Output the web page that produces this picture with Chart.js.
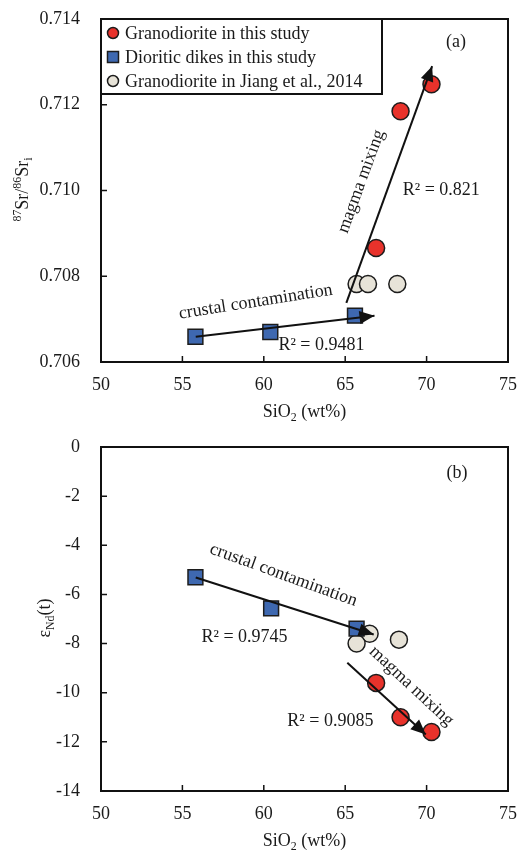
<!DOCTYPE html>
<html>
<head>
<meta charset="utf-8">
<script src="https://cdn.jsdelivr.net/npm/chart.js@4.4.1/dist/chart.umd.min.js"></script>
<style>
  html, body { margin: 0; padding: 0; background: #fff; }
  #wrap { position: relative; width: 520px; height: 855px; }
  canvas { position: absolute; left: 0; }
</style>
</head>
<body>
<div id="wrap">
  <canvas id="srChart" width="520" height="430" style="top:0"></canvas>
  <canvas id="ndChart" width="520" height="425" style="top:430px"></canvas>
</div>
<script>
const legendLabels = ['Granodiorite in this study', 'Dioritic dikes in this study', 'Granodiorite in Jiang et al., 2014'];

// (a) initial 87Sr/86Sr vs SiO2
const graniteSiO2 = [66.9, 68.4, 70.3];
const graniteSr = [0.70866, 0.71185, 0.71248];
const dikeSiO2 = [55.8, 60.4, 65.6];
const dikeSr = [0.70659, 0.70670, 0.70708];
const jiangSiO2 = [65.7, 66.4, 68.2];
const jiangSr = [0.70782, 0.70782, 0.70782];

// (b) eNd(t) vs SiO2
const graniteNdSiO2 = [66.9, 68.4, 70.3];
const graniteNd = [-9.6, -11.0, -11.6];
const dikeNdSiO2 = [55.8, 60.45, 65.7];
const dikeNd = [-5.3, -6.57, -7.39];
const jiangNdSiO2 = [66.5, 65.7, 68.3];
const jiangNd = [-7.6, -8.0, -7.84];

// trend arrows, [start, end]
const crustSrX = [55.82, 66.8];
const crustSrY = [0.70659, 0.70708];
const mixSrX = [65.07, 70.34];
const mixSrY = [0.70738, 0.7129];
const crustNdX = [55.82, 66.75];
const crustNdY = [-5.31, -7.63];
const mixNdX = [65.13, 69.95];
const mixNdY = [-8.78, -11.7];

// tick labels
const xTicks = [50, 55, 60, 65, 70, 75];
const srTicks = [0.706, 0.708, 0.710, 0.712, 0.714];
const ndTicks = [-14, -12, -10, -8, -6, -4, -2, 0];

const serif = "'Liberation Serif', 'Times New Roman', serif";
const RED = '#e8322b', BLUE = '#3e68b0', GREY = '#e7e3d8', EDGE = '#1c1c1c', INK = '#1a1a1a';

const pts = (xs, ys) => xs.map((x, i) => ({ x: x, y: ys[i] }));

function markers(xs, ys, k) {
  const style = [
    { pointStyle: 'circle', pointRadius: 8.5, backgroundColor: RED },
    { pointStyle: 'rect', pointRadius: 10.5, backgroundColor: BLUE },
    { pointStyle: 'circle', pointRadius: 8.5, backgroundColor: GREY }
  ][k];
  return Object.assign({ label: legendLabels[k], data: pts(xs, ys), borderColor: EDGE, borderWidth: 1.5, order: 2 }, style);
}

function arrowLine(xs, ys) {
  return { data: pts(xs, ys), showLine: true, pointRadius: 0, borderColor: '#111', borderWidth: 2, order: 0, arrow: true };
}

// text with sup/sub parts, centred on x,y
function richText(ctx, parts, x, y, rot, size) {
  ctx.save();
  ctx.translate(x, y);
  ctx.rotate(rot * Math.PI / 180);
  const fs = p => (p[1] ? size * 0.66 : size);
  let w = 0;
  parts.forEach(p => { ctx.font = fs(p) + 'px ' + serif; w += ctx.measureText(p[0]).width; });
  let cx = -w / 2;
  ctx.fillStyle = INK;
  ctx.textAlign = 'left';
  ctx.textBaseline = 'alphabetic';
  parts.forEach(p => {
    ctx.font = fs(p) + 'px ' + serif;
    const dy = p[1] === 'sup' ? -size * 0.4 : p[1] === 'sub' ? size * 0.22 : 0;
    ctx.fillText(p[0], cx, size * 0.33 + dy);
    cx += ctx.measureText(p[0]).width;
  });
  ctx.restore();
}

function framePlugin(notes, yTitle, yTitleX, withLegend) {
  return {
    id: 'frame',
    afterDatasetsDraw(chart) {
      const ctx = chart.ctx, ca = chart.chartArea;
      const xs = chart.scales.x, ys = chart.scales.y;

      // arrow heads
      chart.data.datasets.forEach((ds, i) => {
        if (!ds.arrow) return;
        const d = chart.getDatasetMeta(i).data;
        const a = d[d.length - 2], b = d[d.length - 1];
        const ang = Math.atan2(b.y - a.y, b.x - a.x);
        ctx.save();
        ctx.translate(b.x, b.y);
        ctx.rotate(ang);
        ctx.fillStyle = '#111';
        ctx.beginPath();
        ctx.moveTo(0, 0);
        ctx.lineTo(-15, -6.5);
        ctx.lineTo(-15, 6.5);
        ctx.closePath();
        ctx.fill();
        ctx.restore();
      });

      // frame and inward ticks
      ctx.save();
      ctx.strokeStyle = '#111';
      ctx.lineWidth = 2;
      ctx.strokeRect(ca.left, ca.top, ca.right - ca.left, ca.bottom - ca.top);
      ctx.lineWidth = 1.5;
      ctx.beginPath();
      xs.ticks.forEach(t => {
        const px = xs.getPixelForValue(t.value);
        ctx.moveTo(px, ca.bottom);
        ctx.lineTo(px, ca.bottom - 6);
      });
      ys.ticks.forEach(t => {
        const py = ys.getPixelForValue(t.value);
        ctx.moveTo(ca.left, py);
        ctx.lineTo(ca.left + 6, py);
      });
      ctx.stroke();
      ctx.restore();

      // annotations
      ctx.save();
      ctx.fillStyle = INK;
      ctx.font = '18px ' + serif;
      ctx.textAlign = 'center';
      ctx.textBaseline = 'middle';
      notes.forEach(n => {
        ctx.save();
        ctx.translate(xs.getPixelForValue(n.x), ys.getPixelForValue(n.y));
        ctx.rotate(n.rot * Math.PI / 180);
        ctx.fillText(n.text, 0, 0);
        ctx.restore();
      });
      ctx.restore();

      // axis titles
      richText(ctx, [['SiO', ''], ['2', 'sub'], [' (wt%)', '']], (ca.left + ca.right) / 2, ca.bottom + 49, 0, 18);
      richText(ctx, yTitle, yTitleX, (ca.top + ca.bottom) / 2 - 1, -90, 18);

      // legend box
      if (withLegend) {
        const bw = 281, bh = 75;
        ctx.save();
        ctx.fillStyle = '#fff';
        ctx.fillRect(ca.left, ca.top, bw, bh);
        ctx.strokeStyle = '#111';
        ctx.lineWidth = 2;
        ctx.strokeRect(ca.left, ca.top, bw, bh);
        chart.data.datasets.slice(0, 3).forEach((ds, k) => {
          const cy = ca.top + 14 + k * 24, mx = ca.left + 12;
          ctx.fillStyle = ds.backgroundColor;
          ctx.strokeStyle = EDGE;
          ctx.lineWidth = 1.5;
          ctx.beginPath();
          if (ds.pointStyle === 'rect') ctx.rect(mx - 5.5, cy - 5.5, 11, 11);
          else ctx.arc(mx, cy, 5.5, 0, Math.PI * 2);
          ctx.fill();
          ctx.stroke();
          ctx.fillStyle = INK;
          ctx.font = '18px ' + serif;
          ctx.textAlign = 'left';
          ctx.textBaseline = 'middle';
          ctx.fillText(ds.label, ca.left + 24, cy + 1);
        });
        ctx.restore();
      }
    }
  };
}

function makeChart(id, cfg) {
  const tickFont = { family: serif, size: 18 };
  return new Chart(document.getElementById(id), {
    type: 'scatter',
    data: { datasets: cfg.datasets },
    options: {
      responsive: false,
      animation: false,
      devicePixelRatio: 1,
      layout: { padding: { top: cfg.top, right: 11, left: 0, bottom: 0 } },
      plugins: { legend: { display: false }, tooltip: { enabled: false } },
      scales: {
        x: {
          type: 'linear', min: 50, max: 75,
          afterBuildTicks: s => { s.ticks = xTicks.map(v => ({ value: v })); },
          afterFit: s => { s.height = cfg.xHeight; s.paddingLeft = 0; s.paddingRight = 0; },
          grid: { display: false, drawTicks: false },
          border: { display: false },
          ticks: { font: tickFont, color: INK, padding: 12, maxRotation: 0 }
        },
        y: {
          type: 'linear', min: cfg.yTicks[0], max: cfg.yTicks[cfg.yTicks.length - 1],
          afterBuildTicks: s => { s.ticks = cfg.yTicks.map(v => ({ value: v })); },
          afterFit: s => { s.width = 101; s.paddingTop = 0; s.paddingBottom = 0; },
          grid: { display: false, drawTicks: false },
          border: { display: false },
          ticks: { font: tickFont, color: INK, padding: 21, callback: cfg.fmt }
        }
      }
    },
    plugins: [framePlugin(cfg.notes, cfg.yTitle, cfg.yTitleX, cfg.legend)]
  });
}

makeChart('srChart', {
  top: 19, xHeight: 68, yTicks: srTicks, legend: true,
  fmt: v => v.toFixed(3),
  datasets: [
    markers(graniteSiO2, graniteSr, 0),
    markers(dikeSiO2, dikeSr, 1),
    markers(jiangSiO2, jiangSr, 2),
    arrowLine(crustSrX, crustSrY),
    arrowLine(mixSrX, mixSrY)
  ],
  yTitle: [['87', 'sup'], ['Sr/', ''], ['86', 'sup'], ['Sr', ''], ['i', 'sub']],
  yTitleX: 22,
  notes: [
    { text: 'crustal contamination', x: 59.5, y: 0.7074, rot: -9 },
    { text: 'R\u00b2 = 0.9481', x: 63.54, y: 0.7064, rot: 0 },
    { text: 'magma mixing', x: 65.99, y: 0.71021, rot: -70 },
    { text: 'R\u00b2 = 0.821', x: 70.9, y: 0.7100, rot: 0 },
    { text: '(a)', x: 71.8, y: 0.71346, rot: 0 }
  ]
});

makeChart('ndChart', {
  top: 17, xHeight: 64, yTicks: ndTicks, legend: false,
  fmt: v => String(v),
  datasets: [
    markers(graniteNdSiO2, graniteNd, 0),
    markers(dikeNdSiO2, dikeNd, 1),
    markers(jiangNdSiO2, jiangNd, 2),
    arrowLine(crustNdX, crustNdY),
    arrowLine(mixNdX, mixNdY)
  ],
  yTitle: [['\u03b5', ''], ['Nd', 'sub'], ['(t)', '']],
  yTitleX: 44,
  notes: [
    { text: 'crustal contamination', x: 61.21, y: -5.21, rot: 20 },
    { text: 'R\u00b2 = 0.9745', x: 58.82, y: -7.73, rot: 0 },
    { text: 'magma mixing', x: 69.06, y: -9.73, rot: 43 },
    { text: 'R\u00b2 = 0.9085', x: 64.09, y: -11.15, rot: 0 },
    { text: '(b)', x: 71.87, y: -1.06, rot: 0 }
  ]
});
</script>
</body>
</html>
